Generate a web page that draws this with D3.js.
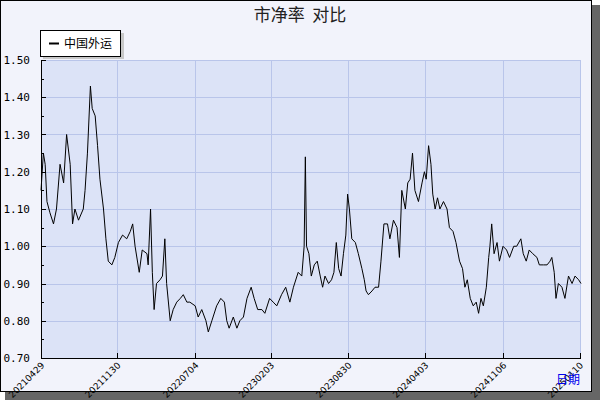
<!DOCTYPE html>
<html><head><meta charset="utf-8">
<script src="https://cdn.jsdelivr.net/npm/d3@7"></script>
<style>body{margin:0;}svg{display:block;font-family:"DejaVu Sans",sans-serif;}</style>
</head><body><div id="chart"></div>
<script>
// trading-day index and price/book value
const dayIdx = [0,4,7,10,15,21,26,32,38,43,49,53,57,63,71,74,78,83,86,91,95,99,105,109,113,119,124,130,137,144,150,154,158,165,170,178,180,184,187,190,194,200,204,208,211,217,222,228,234,239,245,250,259,264,270,277,281,287,295,302,308,312,316,323,329,334,340,346,353,358,364,371,376,384,390,396,404,411,418,424,432,438,442,444,446,450,454,459,
 464,469,473,477,483,488,492,496,500,504,508,512,515,518,522,528,533,539,543,546,550,556,561,567,571,576,582,586,592,598,602,606,612,616,620,624,628,634,640,644,647,651,655,658,662,666,670,676,682,686,692,697,703,708,712,716,721,726,731,735,739,743,748,752,754,757,761,766,770,776,782,787,794,799,806,810,815,820,826,833,837,844,850,855,858,862,865,869,875,880,886,892,897,903,907];
const pbValues = [1.15,1.25,1.22,1.12,1.09,1.06,1.10,1.22,1.17,1.30,1.22,1.06,1.10,1.07,1.10,1.15,1.25,1.43,1.37,1.35,1.27,1.18,1.10,1.02,0.96,0.95,0.97,1.01,1.03,1.02,1.04,1.06,1.00,0.93,0.99,0.98,0.95,1.10,0.93,0.83,0.90,0.91,0.92,1.02,0.90,0.80,0.83,0.85,0.86,0.87,0.85,0.85,0.84,0.81,0.83,0.80,0.77,0.80,0.84,0.86,0.85,0.80,0.78,0.81,0.78,0.80,0.81,0.86,0.89,0.86,0.83,0.83,0.82,0.86,0.85,0.84,0.87,0.89,0.85,0.89,0.93,0.92,1.00,1.24,1.00,0.98,0.92,0.95,
 0.96,0.92,0.89,0.92,0.90,0.91,0.93,1.01,0.94,0.92,0.98,1.03,1.14,1.10,1.02,1.01,0.98,0.94,0.91,0.88,0.87,0.88,0.89,0.89,0.96,1.06,1.06,1.02,1.07,1.05,0.97,1.15,1.10,1.17,1.18,1.25,1.15,1.12,1.17,1.20,1.18,1.27,1.22,1.14,1.10,1.13,1.10,1.12,1.10,1.05,1.04,1.01,0.96,0.94,0.89,0.91,0.86,0.84,0.85,0.82,0.86,0.84,0.89,0.97,1.00,1.06,0.98,1.01,0.96,1.00,0.99,0.97,1.00,1.00,1.02,0.98,0.96,0.99,0.98,0.97,0.95,0.95,0.95,0.96,0.97,0.93,0.86,0.90,0.89,0.86,0.92,0.90,0.92,0.91,0.90];
const tickIdx = [0,128,259,386,516,645,776,905];
const tickLabels = ['20210429','20211130','20220704','20230203','20230830','20240403','20241106','20250110'];
const yTicks = [0.70,0.80,0.90,1.00,1.10,1.20,1.30,1.40,1.50];

const svg = d3.select('#chart').append('svg').attr('width',600).attr('height',400);
svg.append('rect').attr('x',5).attr('y',5).attr('width',595).attr('height',395).attr('fill','#666');
svg.append('rect').attr('x',0.5).attr('y',0.5).attr('width',591).attr('height',391).attr('fill','#f2f3fb').attr('stroke','#000');

const margin = {left:41, top:60, right:581, bottom:358};
const x = d3.scaleLinear().domain([0,907]).range([margin.left, margin.right]);
const y = d3.scaleLinear().domain([0.7,1.5]).range([margin.bottom, margin.top]);

svg.append('rect').attr('x',margin.left).attr('y',margin.top)
  .attr('width',margin.right-margin.left).attr('height',margin.bottom-margin.top).attr('fill','#dce3f7');

const grid = svg.append('g').attr('stroke','#b9c5ea').attr('stroke-width',1);
yTicks.forEach(t => grid.append('line').attr('x1',margin.left).attr('x2',margin.right).attr('y1',Math.round(y(t))+0.5).attr('y2',Math.round(y(t))+0.5));
tickIdx.forEach(t => grid.append('line').attr('x1',Math.round(x(t))+0.5).attr('x2',Math.round(x(t))+0.5).attr('y1',margin.top).attr('y2',margin.bottom));

// axes
const axes = svg.append('g').attr('stroke','#000');
axes.append('line').attr('x1',margin.left+0.5).attr('x2',margin.left+0.5).attr('y1',margin.top).attr('y2',margin.bottom);
axes.append('line').attr('x1',margin.left).attr('x2',margin.right).attr('y1',margin.bottom+0.5).attr('y2',margin.bottom+0.5);
d3.range(0.7,1.501,0.05).forEach((t,i) => {
  const yy = Math.round(y(t))+0.5;
  axes.append('line').attr('x1',margin.left).attr('x2',margin.left+(i%2===0?5:3)).attr('y1',yy).attr('y2',yy);
});
tickIdx.forEach(t => {
  const xx = Math.round(x(t))+0.5;
  axes.append('line').attr('x1',xx).attr('x2',xx).attr('y1',margin.bottom).attr('y2',margin.bottom-5);
});

svg.append('g').selectAll('text').data(yTicks).join('text')
  .attr('x',30).attr('y',d=>y(d)+4).attr('text-anchor','end')
  .attr('font-size',11).attr('font-family','DejaVu Sans Mono, monospace').text(d=>d.toFixed(2));

svg.append('g').selectAll('text').data(tickIdx).join('text')
  .attr('transform',(d)=>`translate(${x(d)+4},${margin.bottom+8}) rotate(-45)`)
  .attr('text-anchor','end').attr('font-size',9).text((d,i)=>tickLabels[i]);

// line
const line = d3.line().x((d,i)=>x(dayIdx[i])).y(d=>y(d));
svg.append('path').datum(pbValues).attr('d',line).attr('fill','none').attr('stroke','#000').attr('stroke-width',1);

// title, legend, x axis name
svg.append('text').attr('x',300).attr('y',21).attr('text-anchor','middle').attr('font-size',17)
  .attr('font-family','Noto Sans CJK SC, sans-serif').attr('fill','#222').text('市净率\u00a0\u00a0对比');
svg.append('rect').attr('x',43).attr('y',33).attr('width',81).attr('height',26).attr('fill','#c8c8c8');
svg.append('rect').attr('x',40.5).attr('y',30.5).attr('width',80).attr('height',26).attr('fill','#fff').attr('stroke','#000');
svg.append('line').attr('x1',49).attr('x2',59).attr('y1',43.5).attr('y2',43.5).attr('stroke','#000').attr('stroke-width',2);
svg.append('text').attr('x',64).attr('y',48).attr('font-size',12)
  .attr('font-family','Noto Sans CJK SC, sans-serif').text('中国外运');
svg.append('text').attr('x',556).attr('y',384).attr('font-size',12).attr('fill','#0000ee')
  .attr('font-family','Noto Sans CJK SC, sans-serif').text('日期');
</script></body></html>
